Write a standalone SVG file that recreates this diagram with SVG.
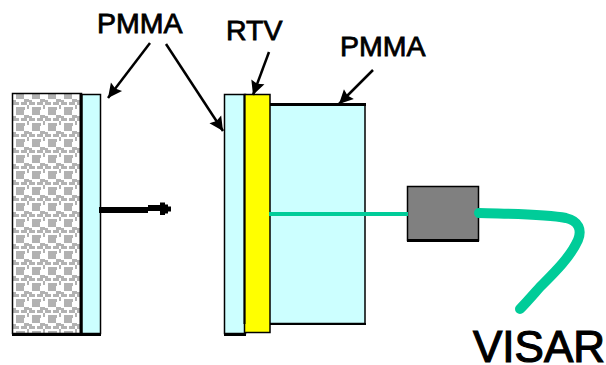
<svg xmlns="http://www.w3.org/2000/svg" width="606" height="365" viewBox="0 0 606 365">
<style>
.t{font-family:"Liberation Sans",Arial,sans-serif;fill:#000;stroke:#000;stroke-width:.8}
.k{stroke:#000;fill:none;stroke-width:2.500}
.p{fill:#ccffff;stroke:#000;stroke-width:1.500}
.f{stroke:#00cc99;fill:none}
</style>
<defs>
<pattern id="h" width="16" height="16" patternUnits="userSpaceOnUse" x="13" y="94">
<rect width="16" height="16" fill="#fff"/>
<path fill="#b2b2b2" d="M3 0h8v5h-8zM0 6h3v2h3v3h-6zM11 5h5v3h-2v3h-6v-3h3zM3 13h9v3h-9zM14 11h2v4h-2z"/>
</pattern>
<marker id="a" markerUnits="userSpaceOnUse" markerWidth="16" markerHeight="16" refX="14" refY="8" orient="auto" overflow="visible"><path d="M0 1L14 8L0 15L2 8z" fill="#000"/></marker>
</defs>
<g id="backing"><rect x="12.500" y="93.500" width="69" height="240" fill="url(#h)" stroke="#000" stroke-width="1.500"/><rect x="79.500" y="94" width="3" height="239"/></g>
<g id="flyer-pmma"><rect class="p" x="82" y="94.500" width="18.500" height="239"/><rect x="12" y="333" width="89" height="3"/></g>
<g id="target-pmma-front"><rect class="p" x="224.500" y="94.500" width="21" height="239"/><rect x="224" y="333" width="22" height="3"/></g>
<g id="target-pmma-back"><rect class="p" x="269" y="104.500" width="96" height="219"/><rect x="269" y="103" width="97" height="3"/><rect x="269" y="323" width="97" height="2"/></g>
<g id="rtv"><rect x="244.500" y="94.500" width="25.500" height="238" fill="#ffff00" stroke="#000" stroke-width="1.500"/><rect x="243.500" y="95" width="2" height="229"/></g>
<g id="probe"><rect x="407.500" y="186.500" width="71" height="54" fill="#808080" stroke="#000" stroke-width="1.500"/><rect x="407" y="239" width="72" height="3"/></g>
<g id="connectors">
<path class="f" stroke-width="4" d="M269 214H408"/>
<path class="f" stroke-width="10" stroke-linecap="round" d="M479 213C510 214 545 214 566 218C579 221 582 230 578 240C570 258 552 275 540 287C532 296 526 303 520 309"/>
<path d="M99 207h49v-2h12v-2.500h5v2h3v2h3v5h-3v2h-3v1.500h-5v-4h-12v2h-49z" fill="#000"/>
<path class="k" marker-end="url(#a)" d="M150 43L108 98"/>
<path class="k" marker-end="url(#a)" d="M166 44L223 131"/>
<path class="k" marker-end="url(#a)" d="M269 52L253 95"/>
<path class="k" marker-end="url(#a)" d="M373 70L339 104"/>
</g>
<g id="labels">
<text class="t" x="97" y="33" font-size="28.500">PMMA</text>
<text class="t" x="226" y="40" font-size="28.500">RTV</text>
<text class="t" x="340" y="56" font-size="28.500">PMMA</text>
<text class="t" x="473" y="362" font-size="44" style="stroke-width:1.200">VISAR</text>
</g>
</svg>
